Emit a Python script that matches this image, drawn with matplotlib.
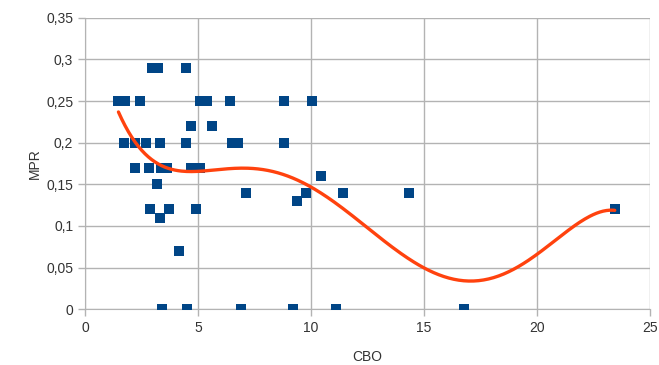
import numpy as np
import matplotlib.pyplot as plt
from matplotlib.ticker import FuncFormatter, MultipleLocator

# CBO / MPR measurements
cbo = [2.96, 3.23, 4.47,
       1.48, 1.75, 2.43, 5.07, 5.38, 6.44, 8.8, 10.04,
       4.69, 5.6,
       1.73, 2.21, 2.7, 3.32, 4.49, 6.5, 6.77, 8.8,
       2.2, 2.83, 3.36, 3.63, 4.71, 5.1,
       10.44,
       3.2,
       7.12, 9.77, 11.4, 14.34,
       9.37,
       2.88, 3.7, 4.9, 23.45,
       3.34,
       4.16,
       3.39, 4.5, 6.89, 9.2, 11.1, 16.77]
mpr = [0.29, 0.29, 0.29,
       0.25, 0.25, 0.25, 0.25, 0.25, 0.25, 0.25, 0.25,
       0.22, 0.22,
       0.2, 0.2, 0.2, 0.2, 0.2, 0.2, 0.2, 0.2,
       0.17, 0.17, 0.17, 0.17, 0.17, 0.17,
       0.16,
       0.15,
       0.14, 0.14, 0.14, 0.14,
       0.13,
       0.12, 0.12, 0.12, 0.12,
       0.11,
       0.07,
       0, 0, 0, 0, 0, 0]

x = np.array(cbo)
y = np.array(mpr)

# polynomial trend line (degree 5) over the data range
coef = np.polyfit(x, y, 5)
xs = np.linspace(x.min(), x.max(), 300)
ys = np.polyval(coef, xs)

fig = plt.figure(figsize=(6.59, 3.65), dpi=100)
ax = fig.add_axes([0.129, 0.153, 0.857, 0.798])

grid_c = "#b3b3b3"
ax.scatter(x, y, marker="s", s=62, color="#004586", zorder=3, linewidths=0)
ax.plot(xs, ys, color="#ff420e", lw=2.4, zorder=4, solid_capstyle="round")

ax.set_xlim(0, 25)
ax.set_ylim(0, 0.35)
ax.xaxis.set_major_locator(MultipleLocator(5))
ax.yaxis.set_major_locator(MultipleLocator(0.05))
ax.yaxis.set_major_formatter(FuncFormatter(lambda v, p: ("%g" % round(v, 2)).replace(".", ",")))

ax.grid(True, color=grid_c, lw=1)
ax.set_axisbelow(True)
for side in ["top", "right"]:
    ax.spines[side].set_visible(False)
for side in ["left", "bottom"]:
    ax.spines[side].set_color(grid_c)
ax.tick_params(colors=grid_c, labelcolor="#333333", labelsize=10, length=5, width=1)
for lab in ax.get_xticklabels() + ax.get_yticklabels():
    lab.set_family("Liberation Sans")

ax.set_xlabel("CBO", family="Liberation Sans", fontsize=10, color="#333333", labelpad=11)
ax.set_ylabel("MPR", family="Liberation Sans", fontsize=10, color="#333333", labelpad=3)

fig.savefig("out.png", dpi=100)
